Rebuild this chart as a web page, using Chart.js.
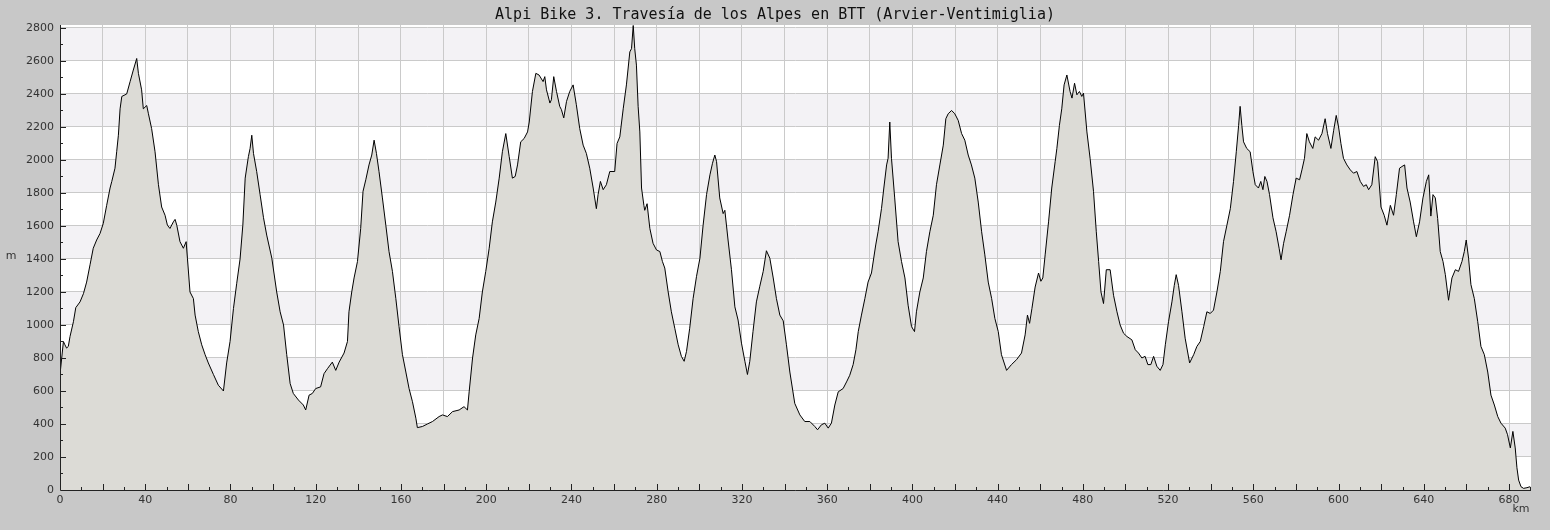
<!DOCTYPE html>
<html>
<head>
<meta charset="utf-8">
<script src="https://cdn.jsdelivr.net/npm/chart.js@4.4.1/dist/chart.umd.min.js"></script>
<style>
  html, body { margin: 0; padding: 0; background: #c8c8c8; }
  #wrap { width: 1550px; height: 530px; }
</style>
</head>
<body>
<div id="wrap"><canvas id="profile" width="1550" height="530"></canvas></div>
<script>
// distance along the route (km) and altitude (m)
const km = [
  0, 0.8, 1.6, 2.3, 3.1, 3.9, 4.7, 6.3, 7.4, 9.4, 11.0, 12.5, 14.1, 15.6, 17.2, 18.8, 20.3, 21.9, 23.5, 24.3,
  25.8, 26.6, 27.4, 28.2, 29.0, 31.3, 32.9, 34.4, 36.0, 36.8, 38.3, 39.1, 40.7, 41.5, 43.0, 44.6, 46.2, 47.7, 49.3, 50.4,
  51.6, 53.2, 54.0, 54.8, 56.3, 57.9, 59.2, 59.8, 61.0, 62.6, 63.4, 64.9, 66.5, 68.1, 69.6, 72.0, 74.3, 76.7, 78.2, 79.8,
  81.4, 82.9, 84.5, 85.8, 86.9, 88.4, 89.2, 90.0, 90.8, 92.3, 93.9, 95.5, 97.0, 99.4, 101.7, 103.3, 104.9, 106.4, 108.0, 109.5,
  111.9, 114.2, 115.3, 116.9, 118.4, 120.0, 122.3, 123.9, 125.5, 127.8, 129.4, 131.0, 133.3, 134.9, 135.6, 136.9, 138.0, 139.6, 141.1, 142.2,
  143.5, 145.0, 146.3, 147.4, 148.5, 149.7, 151.3, 152.9, 154.4, 156.0, 157.6, 159.1, 160.7, 162.3, 163.8, 165.4, 167.0, 167.7, 170.1, 172.4,
  174.8, 177.9, 179.5, 181.8, 184.2, 187.3, 189.6, 191.2, 192.0, 193.6, 195.1, 196.7, 198.2, 199.8, 201.4, 202.9, 204.5, 206.1, 207.6, 209.2,
  210.8, 212.3, 213.6, 214.7, 216.2, 217.8, 219.4, 220.2, 221.7, 223.3, 224.8, 226.7, 227.5, 228.3, 229.9, 230.6, 231.7, 233.0, 234.5, 235.3,
  236.4, 237.7, 239.2, 240.8, 242.3, 243.9, 245.5, 247.0, 248.6, 250.2, 251.7, 252.5, 253.6, 254.9, 256.4, 258.0, 260.3, 261.4, 262.7, 264.3,
  265.8, 267.4, 268.2, 269.0, 269.7, 270.5, 271.3, 272.1, 272.9, 274.0, 274.4, 275.5, 276.8, 278.3, 279.9, 281.5, 282.7, 283.8, 285.4, 286.9,
  288.5, 290.1, 291.6, 292.9, 294.0, 295.5, 297.1, 298.7, 300.3, 301.8, 303.4, 305.0, 306.2, 307.3, 308.1, 309.6, 311.2, 312.0, 313.5, 315.1,
  316.7, 318.2, 319.8, 321.4, 322.6, 323.7, 325.2, 326.8, 328.4, 330.0, 331.5, 333.1, 334.7, 336.2, 337.8, 339.4, 340.9, 342.5, 344.8, 347.2,
  349.5, 351.9, 354.2, 355.5, 357.3, 358.9, 360.5, 362.0, 363.6, 365.2, 367.5, 369.1, 370.6, 372.2, 373.5, 374.6, 376.1, 377.7, 379.2, 380.8,
  382.8, 383.9, 385.5, 386.6, 387.9, 388.6, 389.4, 390.2, 391.7, 393.3, 394.9, 396.5, 398.0, 399.6, 401.0, 401.9, 403.5, 405.1, 406.6, 408.2,
  409.8, 411.3, 412.9, 414.5, 415.7, 416.8, 418.4, 419.9, 421.5, 423.1, 424.6, 426.2, 427.7, 429.3, 430.9, 432.5, 434.0, 435.6, 437.2, 438.7,
  440.3, 441.8, 444.2, 446.5, 448.9, 451.2, 452.9, 454.0, 455.0, 456.1, 457.6, 459.2, 460.3, 461.2, 462.3, 463.9, 465.4, 467.0, 467.8, 469.0,
  470.1, 471.2, 472.5, 474.0, 474.9, 476.1, 477.2, 478.4, 479.5, 480.3, 481.9, 483.4, 485.0, 486.3, 487.4, 488.5, 489.7, 491.0, 492.8, 494.4,
  496.0, 497.5, 499.1, 500.7, 503.0, 504.6, 506.1, 507.7, 509.2, 510.5, 511.9, 513.2, 514.7, 516.3, 517.6, 518.7, 520.2, 521.8, 522.9, 523.8,
  524.9, 526.5, 528.0, 530.1, 532.0, 533.5, 535.1, 536.7, 538.2, 539.8, 541.3, 542.9, 544.5, 546.0, 547.6, 549.2, 550.7, 552.0, 553.1, 553.8,
  554.6, 555.4, 556.9, 558.5, 559.8, 560.9, 562.4, 563.5, 564.5, 565.4, 566.4, 567.6, 569.2, 570.7, 572.1, 573.0, 574.2, 575.4, 577.0, 578.6,
  580.1, 581.7, 582.8, 584.0, 585.1, 586.3, 587.9, 589.0, 590.6, 592.2, 593.7, 594.8, 596.4, 597.7, 598.9, 600.0, 601.1, 602.3, 603.9, 605.5,
  607.0, 608.6, 610.2, 611.7, 613.0, 614.1, 615.6, 617.2, 618.3, 619.9, 621.4, 622.7, 624.3, 625.8, 627.1, 628.6, 629.7, 631.0, 632.1, 633.6,
  635.2, 636.5, 638.0, 639.6, 641.2, 642.3, 643.3, 644.3, 645.4, 646.5, 647.7, 649.0, 650.1, 651.6, 653.2, 654.8, 656.3, 657.9, 659.0, 659.9,
  661.0, 662.1, 663.7, 665.3, 666.8, 668.4, 670.0, 671.5, 673.1, 674.7, 676.2, 678.2, 679.3, 680.6, 681.8, 682.9, 683.7, 684.5, 685.6, 686.8,
  688.4, 689.9
];
const altitude = [
  700, 800, 900, 880, 860, 870, 930, 1020, 1105, 1140, 1190, 1260, 1365, 1465, 1515, 1555, 1615, 1725, 1830, 1870,
  1950, 2050, 2150, 2310, 2385, 2400, 2475, 2545, 2615, 2525, 2425, 2310, 2330, 2280, 2190, 2050, 1850, 1715, 1665, 1605,
  1585, 1625, 1640, 1605, 1505, 1465, 1505, 1405, 1200, 1160, 1060, 960, 880, 820, 770, 700, 635, 600, 770, 900,
  1100, 1250, 1400, 1605, 1890, 2020, 2070, 2150, 2040, 1930, 1790, 1650, 1545, 1405, 1200, 1080, 1000, 820, 645, 585,
  545, 515, 485, 575, 585, 615, 625, 705, 735, 775, 725, 775, 830, 900, 1080, 1200, 1285, 1385, 1585, 1810,
  1880, 1970, 2030, 2120, 2040, 1930, 1770, 1605, 1445, 1325, 1160, 990, 820, 715, 615, 535, 435, 378, 385, 400,
  415, 445, 455, 445, 475, 485, 505, 485, 595, 800, 940, 1040, 1200, 1325, 1465, 1625, 1745, 1890, 2050, 2160,
  2020, 1890, 1900, 1970, 2110, 2130, 2170, 2230, 2415, 2525, 2515, 2475, 2505, 2425, 2345, 2365, 2505, 2415, 2325, 2305,
  2255, 2355, 2415, 2455, 2335, 2190, 2090, 2040, 1950, 1830, 1705, 1790, 1870, 1820, 1850, 1930, 1930, 2100, 2140, 2310,
  2455, 2655, 2675, 2815, 2675, 2575, 2325, 2170, 1830, 1725, 1695, 1735, 1585, 1495, 1455, 1445, 1385, 1345, 1200, 1080,
  980, 880, 810, 780, 840, 980, 1160, 1295, 1405, 1605, 1790, 1910, 1980, 2030, 1990, 1770, 1675, 1695, 1515, 1335,
  1110, 1030, 890, 780, 700, 780, 960, 1140, 1235, 1325, 1450, 1405, 1285, 1160, 1060, 1025, 880, 715, 525, 455,
  415, 415, 385, 365, 395, 405, 375, 405, 515, 595, 615, 655, 695, 760, 850, 960, 1060, 1160, 1260, 1315,
  1485, 1565, 1705, 1830, 1970, 2010, 2230, 2010, 1770, 1505, 1385, 1285, 1120, 990, 960, 1080, 1200, 1285, 1445, 1565,
  1665, 1850, 1970, 2090, 2250, 2280, 2300, 2280, 2240, 2160, 2120, 2030, 1970, 1890, 1745, 1565, 1425, 1260, 1160, 1040,
  960, 820, 725, 760, 790, 830, 940, 1060, 1010, 1100, 1230, 1315, 1265, 1285, 1425, 1625, 1830, 1990, 2070, 2210,
  2310, 2455, 2515, 2415, 2375, 2465, 2395, 2415, 2385, 2405, 2170, 2010, 1810, 1565, 1385, 1200, 1130, 1335, 1335, 1180,
  1080, 1000, 950, 930, 910, 850, 830, 800, 810, 760, 760, 810, 750, 725, 760, 880, 1020, 1140, 1240, 1305,
  1240, 1080, 920, 770, 820, 870, 900, 990, 1080, 1070, 1090, 1200, 1325, 1505, 1605, 1705, 1870, 2050, 2210, 2325,
  2210, 2110, 2070, 2050, 1930, 1850, 1830, 1870, 1820, 1900, 1870, 1790, 1650, 1565, 1465, 1395, 1495, 1565, 1665, 1790,
  1890, 1880, 1940, 2010, 2160, 2110, 2070, 2140, 2120, 2160, 2250, 2160, 2070, 2180, 2270, 2200, 2100, 2010, 1970, 1940,
  1920, 1930, 1870, 1840, 1850, 1820, 1850, 2020, 1990, 1715, 1665, 1605, 1725, 1665, 1790, 1950, 1960, 1970, 1830, 1745,
  1625, 1535, 1625, 1770, 1870, 1910, 1660, 1790, 1770, 1645, 1445, 1385, 1305, 1150, 1285, 1335, 1325, 1385, 1445, 1515,
  1405, 1245, 1160, 1020, 870, 820, 715, 575, 515, 445, 405, 375, 335, 255, 355, 255, 135, 60, 20, 10,
  14, 20
];

const kmTicks = [0, 20, 40, 60, 80, 100, 120, 140, 160, 180, 200, 220, 240, 260, 280, 300, 320, 340,
  360, 380, 400, 420, 440, 460, 480, 500, 520, 540, 560, 580, 600, 620, 640, 660, 680];
const altTicks = [0, 200, 400, 600, 800, 1000, 1200, 1400, 1600, 1800, 2000, 2200, 2400, 2600, 2800];
const shadedBands = [200, 600, 1000, 1400, 1800, 2200, 2600];

const titleText = 'Alpi Bike 3. Travesía de los Alpes en BTT (Arvier-Ventimiglia)';

// bands behind, tick marks + axis lines on top of the filled profile
const profileDecor = {
  id: 'profileDecor',
  beforeDraw(chart) {
    const ctx = chart.ctx, a = chart.chartArea, y = chart.scales.y;
    ctx.save();
    ctx.fillStyle = '#ffffff';
    ctx.fillRect(a.left, a.top, a.right - a.left, a.bottom - a.top);
    ctx.fillStyle = '#f3f2f5';
    shadedBands.forEach(function(v) {
      const t = y.getPixelForValue(v + 200), b = y.getPixelForValue(v);
      ctx.fillRect(a.left, t, a.right - a.left, b - t);
    });
    ctx.restore();
  },
  afterDatasetsDraw(chart) {
    const ctx = chart.ctx, a = chart.chartArea, x = chart.scales.x, y = chart.scales.y;
    ctx.save();
    ctx.strokeStyle = '#222';
    ctx.lineWidth = 1;
    ctx.beginPath();
    ctx.moveTo(a.left + 0.5, a.top);
    ctx.lineTo(a.left + 0.5, a.bottom + 0.5);
    ctx.lineTo(a.right, a.bottom + 0.5);
    for (let v = 100; v <= 2800; v += 100) {
      const py = Math.round(y.getPixelForValue(v)) + 0.5;
      ctx.moveTo(a.left, py);
      ctx.lineTo(a.left + (v % 200 === 0 ? 6 : 3), py);
    }
    for (let k = 10; k <= 690; k += 10) {
      const px = Math.round(x.getPixelForValue(k)) + 0.5;
      ctx.moveTo(px, a.bottom);
      ctx.lineTo(px, a.bottom - (k % 20 === 0 ? 6 : 3));
    }
    ctx.stroke();

    ctx.fillStyle = '#333';
    ctx.font = '11px "DejaVu Sans"';
    ctx.textAlign = 'center';
    ctx.textBaseline = 'middle';
    ctx.fillText('m', 11, 256);
    ctx.fillText('km', 1521, 509);
    ctx.restore();
  }
};

new Chart(document.getElementById('profile'), {
  type: 'line',
  data: {
    datasets: [{
      data: km.map(function(k, i) { return { x: k, y: altitude[i] }; }),
      borderColor: '#000000',
      borderWidth: 1,
      backgroundColor: '#dcdbd6',
      fill: 'origin',
      pointRadius: 0,
      tension: 0
    }]
  },
  options: {
    responsive: false,
    animation: false,
    devicePixelRatio: 1,
    layout: { padding: 0 },
    plugins: {
      legend: { display: false },
      tooltip: { enabled: false },
      title: {
        display: true,
        text: titleText,
        color: '#111',
        font: { family: '"DejaVu Sans Mono"', size: 15, weight: 'normal' },
        padding: { top: 6, bottom: 1 }
      }
    },
    scales: {
      x: {
        type: 'linear',
        min: 0,
        max: 690.3,
        afterBuildTicks: function(s) { s.ticks = kmTicks.map(function(v) { return { value: v }; }); },
        afterFit: function(s) { s.height = 40; },
        border: { display: false },
        grid: { color: '#cacaca', drawTicks: false },
        ticks: {
          autoSkip: false,
          maxRotation: 0,
          padding: 4,
          color: '#333',
          font: { family: '"DejaVu Sans"', size: 11 },
          callback: function(v) { return v % 40 === 0 ? String(v) : ''; }
        }
      },
      y: {
        min: 0,
        max: 2818,
        afterBuildTicks: function(s) { s.ticks = altTicks.map(function(v) { return { value: v }; }); },
        afterFit: function(s) { s.width = 60; },
        border: { display: false },
        grid: { color: '#cacaca', drawTicks: false },
        ticks: {
          padding: 6,
          color: '#333',
          font: { family: '"DejaVu Sans"', size: 11 },
          callback: function(v) { return String(v); }
        }
      },
      // empty strip on the right so the plot stops short of the edge
      yRight: {
        position: 'right',
        min: 0,
        max: 2818,
        afterFit: function(s) { s.width = 19; },
        border: { display: false },
        grid: { display: false },
        ticks: { display: false }
      }
    }
  },
  plugins: [profileDecor]
});
</script>
</body>
</html>
